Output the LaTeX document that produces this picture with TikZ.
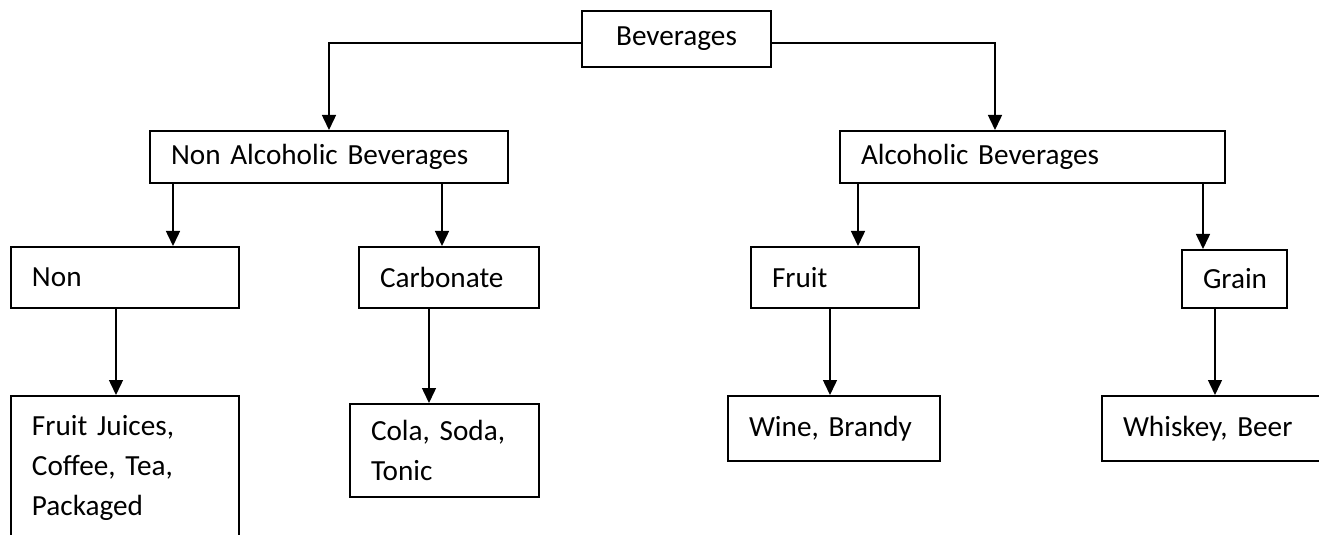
\documentclass[tikz,border=0pt]{standalone}
\usepackage{fontspec}
\setmainfont[WordSpace=0.7]{Carlito}
\usepackage{tikz}
\usetikzlibrary{arrows.meta}
\tikzset{
  caja/.style={draw=black,line width=1pt,fill=white,align=left,inner ysep=0pt,
    font=\fontsize{14.6}{20}\selectfont},
  flecha/.style={-{Triangle[length=7.5pt,width=7pt]},line width=0.75pt,color=black},
}
\begin{document}
\begin{tikzpicture}[x=0.5pt,y=-0.5pt]
  % lienzo de 1319x535, y hacia abajo
  \useasboundingbox (0,0) rectangle (1319,535);
  \fill[white] (0,0) rectangle (1319,535);
  \newcommand{\recuadro}[7][]{% #1 opciones, #2 nombre, #3 x izq, #4 y sup, #5 x der, #6 y inf, #7 texto
    \pgfmathsetlengthmacro\anchocaja{(#5-#3-42)*0.5pt}
    \pgfmathsetlengthmacro\altocaja{(#6-#4)*0.5pt}
    \node[caja,anchor=north west,inner xsep=10.5pt,text width=\anchocaja,
      minimum height=\altocaja,#1] (#2) at (#3,#4) {#7};}
  \recuadro[align=center]{bev}{581}{10}{770}{66}{Beverages}
  \recuadro{nonalc}{149}{130}{507}{182}{Non Alcoholic Beverages}
  \recuadro{alc}{839}{130}{1224}{182}{Alcoholic Beverages}
  \recuadro{non}{10}{246}{238}{307}{Non}
  \recuadro{carb}{358}{246}{538}{307}{Carbonate}
  \recuadro{fruta}{750}{246}{918}{307}{Fruit}
  \recuadro{grano}{1181}{249}{1286}{307}{Grain}
  \recuadro{jugos}{10}{395}{238}{539}{Fruit Juices,\\Coffee, Tea,\\Packaged}
  \recuadro{cola}{349}{403}{538}{496}{Cola, Soda,\\Tonic}
  \recuadro{vino}{727}{395}{939}{460}{Wine, Brandy}
  \recuadro{whisky}{1101}{395}{1340}{460}{Whiskey, Beer}
  % flechas
  \draw[flecha] ([yshift=-2pt]bev.west) -| (nonalc.north);
  \draw[flecha] ([yshift=-2pt]bev.east) -| (alc.north -| 995,0);
  \foreach \de/\a/\x in {nonalc/non/173,nonalc/carb/442,alc/fruta/858,alc/grano/1203,
      non/jugos/116,carb/cola/429,fruta/vino/830,grano/whisky/1215}{
    \draw[flecha] (\de.south -| \x,0) -- (\a.north -| \x,0);
  }
\end{tikzpicture}
\end{document}
